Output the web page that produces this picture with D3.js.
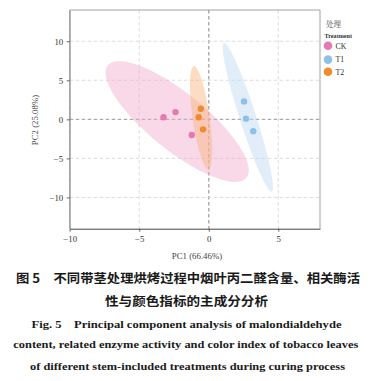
<!DOCTYPE html>
<html><head><meta charset="utf-8">
<script src="https://cdn.jsdelivr.net/npm/d3@7"></script>
<style>
html,body{margin:0;padding:0;background:#fff;}
svg{display:block;}
</style></head>
<body>
<svg id="chart" width="371" height="381"></svg>
<script>
// ---- data ----
const groups = ["CK", "T1", "T2"];
const groupColors = ["#e679b1", "#8ec1e8", "#f08a30"];
const ellipseFills = ["#f2a9cd", "#bcdaf2", "#f8b47a"];

const pointGroup = ["CK","CK","CK","T1","T1","T1","T2","T2","T2"];
const pc1 = [-3.25, -2.39, -1.22, 2.54, 2.68, 3.20, -0.57, -0.72, -0.41];
const pc2 = [0.26, 0.93, -2.00, 2.30, 0.09, -1.53, 1.36, 0.26, -1.28];

// confidence ellipses (data units): centre, half extents, covariance term
const ellipseCenterX = [-2.27, 2.81, -0.55];
const ellipseCenterY = [-0.28, 0.27, 0.22];
const ellipseHalfWidth = [5.15, 1.81, 0.80];
const ellipseHalfHeight = [7.73, 9.53, 6.60];
const ellipseCov = [-32.2, -16.2, -3.37];

const xTicks = [-10, -5, 0, 5];
const yTicks = [-10, -5, 0, 5, 10];
const xDomain = [-10, 8];
const yDomain = [-14, 14];

const xTitle = "PC1 (66.46%)";
const yTitle = "PC2 (25.08%)";
const legendTitleCn = "处理";
const legendTitleEn = "Treatment";
const captionLines = [
  "图 5　不同带茎处理烘烤过程中烟叶丙二醛含量、相关酶活",
  "性与颜色指标的主成分分析",
  "Fig. 5　Principal component analysis of malondialdehyde",
  "content, related enzyme activity and color index of tobacco leaves",
  "of different stem-included treatments during curing process"
];

// ---- layout ----
const svg = d3.select("#chart");
const L = 69.7, R = 320, T = 10, B = 228.7;
const x = d3.scaleLinear().domain(xDomain).range([L, R]);
const y = d3.scaleLinear().domain(yDomain).range([B, T]);
const serif = "'Liberation Serif','Times New Roman',serif";
const fmt = d3.format("d");

// grid
const grid = svg.append("g");
xTicks.forEach(v => {
  grid.append("line").attr("x1", x(v)).attr("x2", x(v)).attr("y1", T).attr("y2", B)
    .attr("stroke", v === 0 ? "#aaaaaa" : "#d4d4d4")
    .attr("stroke-width", v === 0 ? 1.4 : 0.8)
    .attr("stroke-dasharray", "3.5,2.5");
});
yTicks.forEach(v => {
  grid.append("line").attr("x1", L).attr("x2", R).attr("y1", y(v)).attr("y2", y(v))
    .attr("stroke", v === 0 ? "#aaaaaa" : "#d4d4d4")
    .attr("stroke-width", v === 0 ? 1.4 : 0.8)
    .attr("stroke-dasharray", "3.5,2.5");
});

// ellipses
const ts = d3.range(0, 2 * Math.PI, Math.PI / 90);
const line = d3.line().curve(d3.curveLinearClosed);
groups.forEach((g, i) => {
  const hw = ellipseHalfWidth[i], hh = ellipseHalfHeight[i];
  const k = ellipseCov[i] / hw;
  const m = Math.sqrt(Math.max(hh * hh - k * k, 0));
  const pts = ts.map(t => [
    x(ellipseCenterX[i] + hw * Math.cos(t)),
    y(ellipseCenterY[i] + k * Math.cos(t) + m * Math.sin(t))
  ]);
  svg.append("path").attr("d", line(pts))
    .attr("fill", ellipseFills[i]).attr("fill-opacity", 0.45).attr("stroke", "none");
});

// points
svg.append("g").selectAll("circle").data(pc1).join("circle")
  .attr("cx", (d, i) => x(pc1[i]))
  .attr("cy", (d, i) => y(pc2[i]))
  .attr("r", 3.2)
  .attr("fill", (d, i) => groupColors[groups.indexOf(pointGroup[i])]);

// frame
svg.append("path").attr("d", `M${L},${B}V${T}H${R}V${B}`)
  .attr("fill", "none").attr("stroke", "#8a8a8a").attr("stroke-width", 0.8);

// axes
const xAxis = svg.append("g").attr("transform", `translate(0,${B})`)
  .call(d3.axisBottom(x).tickValues(xTicks).tickFormat(fmt).tickSize(3).tickSizeOuter(0).tickPadding(4));
const yAxis = svg.append("g").attr("transform", `translate(${L},0)`)
  .call(d3.axisLeft(y).tickValues(yTicks).tickFormat(fmt).tickSize(3).tickSizeOuter(0).tickPadding(3.5));
xAxis.select(".domain").attr("stroke", "#444").attr("stroke-width", 1);
yAxis.select(".domain").attr("stroke", "#8a8a8a").attr("stroke-width", 0.8);
[xAxis, yAxis].forEach(a => {
  a.selectAll(".tick line").attr("stroke", "#444").attr("stroke-width", 0.8);
  a.selectAll(".tick text").attr("font-family", serif).attr("font-size", 8.8).attr("fill", "#333");
});

// axis titles
svg.append("text").attr("x", 197).attr("y", 259).attr("text-anchor", "middle")
  .attr("font-family", serif).attr("font-size", 8.8).attr("fill", "#444").text(xTitle);
svg.append("text").attr("transform", "translate(38,120) rotate(-90)").attr("text-anchor", "middle")
  .attr("font-family", serif).attr("font-size", 8.8).attr("fill", "#444").text(yTitle);

// legend
svg.append("text").attr("x", 326).attr("y", 27).attr("font-family", "'Noto Serif CJK SC','Noto Sans CJK SC',serif")
  .attr("font-size", 7.5).attr("fill", "#444").text(legendTitleCn);
svg.append("text").attr("x", 324.5).attr("y", 37.5).attr("font-family", serif).attr("font-weight", "bold")
  .attr("font-size", 6.2).attr("fill", "#333").text(legendTitleEn);
const legY = [45.8, 59.6, 71.8];
groups.forEach((g, i) => {
  svg.append("circle").attr("cx", 328).attr("cy", legY[i]).attr("r", 4.3).attr("fill", groupColors[i]);
  svg.append("text").attr("x", 335.5).attr("y", legY[i] + 2.8).attr("font-family", serif)
    .attr("font-size", 7.8).attr("fill", "#333").text(g);
});

// caption
const cjk = "'Noto Sans CJK SC','Noto Sans CJK JP',sans-serif";
const cap = [
  {x: 16, y: 283, len: 344, font: cjk, size: 12.5},
  {x: 105, y: 306, len: 163, font: cjk, size: 12.5},
  {x: 31.5, y: 327.5, len: 310, font: serif, size: 11.2},
  {x: 13.3, y: 347.5, len: 345, font: serif, size: 11.2},
  {x: 30, y: 370, len: 315, font: serif, size: 11.2}
];
captionLines.forEach((s, i) => {
  const c = cap[i];
  svg.append("text").attr("x", c.x).attr("y", c.y).attr("font-family", c.font)
    .attr("font-weight", "bold").attr("font-size", c.size).attr("fill", "#1a1a1a")
    .attr("textLength", c.len).attr("lengthAdjust", "spacingAndGlyphs").text(s);
});
</script>
</body></html>
